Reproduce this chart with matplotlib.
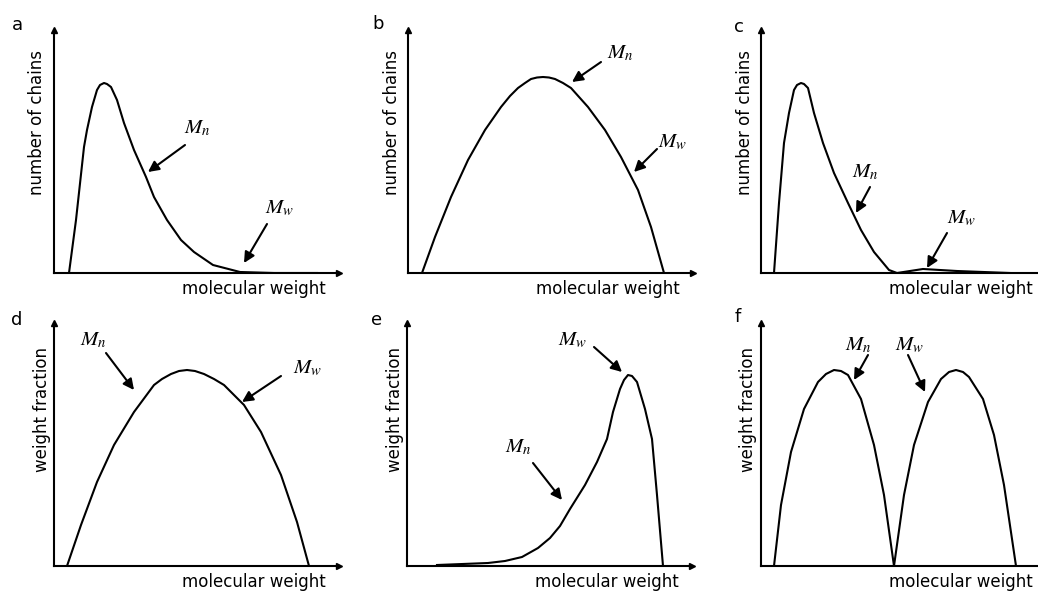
import matplotlib.pyplot as plt

plt.rcParams['mathtext.fontset'] = 'stix'
plt.rcParams['font.family'] = ['DejaVu Sans']

W, H = 1038, 591

# curve data (x = molecular weight, y = amount)
a_x = [15, 22, 30, 33, 38, 43, 46, 50, 53, 57, 63, 70, 80, 92, 100, 113, 127, 140, 159, 186, 220, 263]
a_y = [0, 53, 126, 143, 166, 183, 188, 190, 189, 186, 173, 150, 123, 96, 76, 53, 33, 21, 8, 1, 0, 0]

b_x = [14, 27, 43, 60, 77, 93, 102, 110, 117, 123, 129, 135, 141, 147, 155, 163, 180, 197, 213, 230, 243, 256]
b_y = [0, 36, 76, 113, 143, 166, 177, 185, 190, 194, 195.5, 196, 195.5, 194, 190, 185, 166, 143, 116, 83, 46, 0]

c_x = [13, 18, 23, 28, 33, 36, 40, 43, 47, 53, 62, 73, 87, 100, 113, 128, 136, 162, 196, 249]
c_y = [0, 70, 130, 160, 183, 188, 190, 189, 185, 160, 130, 100, 70, 43, 21, 3, 0, 4, 2, 0]

d_x = [13, 27, 43, 60, 80, 100, 108, 117, 125, 133, 141, 150, 160, 170, 190, 207, 227, 243, 255]
d_y = [0, 41, 84, 121, 154, 181, 187, 192, 195, 196, 195, 192, 187, 181, 161, 134, 91, 44, 0]

e_x = [30, 81, 98, 115, 131, 143, 153, 163, 178, 190, 200, 206, 213, 217, 221, 225, 230, 238, 245, 250, 256]
e_y = [1, 3, 5, 9, 18, 28, 40, 57, 81, 104, 127, 154, 177, 186, 191, 190, 184, 157, 127, 71, 0]

f_x = [13, 20, 30, 43, 57, 65, 73, 80, 87, 100, 113, 123, 133,
       143, 153, 167, 180, 188, 195, 202, 208, 222, 233, 243, 255]
f_y = [0, 61, 114, 157, 184, 192, 196, 195, 191, 167, 121, 71, 0,
       71, 121, 164, 187, 194, 196, 194, 189, 167, 131, 81, 0]

panels = ['a', 'b', 'c', 'd', 'e', 'f']
ylabels = ['number of chains'] * 3 + ['weight fraction'] * 3
curves = [(a_x, a_y), (b_x, b_y), (c_x, c_y), (d_x, d_y), (e_x, e_y), (f_x, f_y)]

# arrows: (label, text xy, tail xy, tip xy)
notes = {
    'a': [('n', (143, 145), (131, 128), (94, 101)),
          ('w', (226, 65), (213, 49), (190, 10))],
    'b': [('n', (212, 220), (193, 211), (164, 191)),
          ('w', (265, 131), (249, 124), (226, 101))],
    'c': [('n', (104, 101), (109, 86), (95, 60)),
          ('w', (201, 55), (186, 40), (166, 5))],
    'd': [('n', (39, 226), (52, 213), (80, 176)),
          ('w', (254, 198), (227, 190), (188, 164))],
    'e': [('w', (166, 226), (187, 219), (215, 194)),
          ('n', (111, 119), (126, 103), (155, 66))],
    'f': [('n', (97, 221), (107, 211), (93, 186)),
          ('w', (149, 221), (147, 211), (164, 174))],
}

origins = [(54, 273), (408, 273), (761, 273), (54, 566), (407, 566), (761, 566)]
letter_pos = [(17, 25), (378, 24), (739, 27), (17, 320), (377, 320), (738, 317)]
ylab_x = [37, 392, 745, 42, 395, 748]
ylab_top = [50, 50, 50, 347, 347, 347]
aw, ah = 285, 243

fig = plt.figure(figsize=(W / 100, H / 100), dpi=100)

for i, p in enumerate(panels):
    x0, y0 = origins[i]
    ax = fig.add_axes([x0 / W, (H - y0) / H, aw / W, ah / H])
    ax.set_xlim(0, aw)
    ax.set_ylim(0, ah)
    ax.patch.set_alpha(0)
    for s in ['top', 'right']:
        ax.spines[s].set_visible(False)
    for s in ['left', 'bottom']:
        ax.spines[s].set_linewidth(1.5)
    ax.set_xticks([])
    ax.set_yticks([])
    ax.plot(1, 0, '>k', ms=5, transform=ax.get_yaxis_transform(), clip_on=False)
    ax.plot(0, 1, '^k', ms=5, transform=ax.get_xaxis_transform(), clip_on=False)

    cx, cy = curves[i]
    ax.plot(cx, cy, color='k', lw=1.5, solid_joinstyle='round')

    for sub, txy, tail, tip in notes[p]:
        ax.text(txy[0], txy[1], r'$M_{%s}$' % sub, fontsize=15, ha='center', va='center')
        ax.annotate('', xy=tip, xytext=tail,
                    arrowprops=dict(arrowstyle='-|>', color='k', lw=1.5,
                                    mutation_scale=16, shrinkA=0, shrinkB=0))

    ax.text(aw - 13, -7, 'molecular weight', fontsize=12, ha='right', va='top')

    lx, ly = letter_pos[i]
    fig.text(lx / W, 1 - ly / H, p, fontsize=13, ha='center', va='center')
    fig.text(ylab_x[i] / W, 1 - ylab_top[i] / H, ylabels[i], fontsize=12,
             rotation=90, ha='center', va='top')

fig.savefig('out.png', dpi=100)
